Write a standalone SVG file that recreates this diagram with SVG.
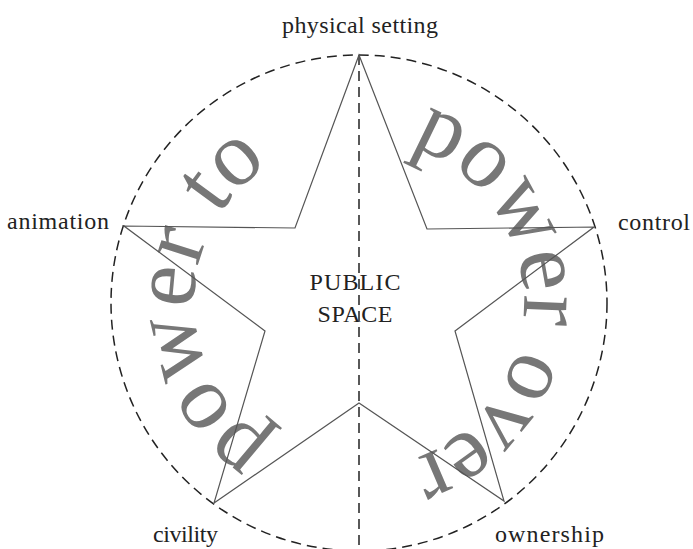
<svg xmlns="http://www.w3.org/2000/svg" width="693" height="549" viewBox="0 0 693 549">
<style>
.lbl{font-family:"Liberation Serif","Times New Roman",serif;font-size:24px;fill:#222}
.big{font-family:"Liberation Serif","Times New Roman",serif;font-size:92px;fill:#777}
.dash{fill:none;stroke:#222;stroke-width:1.5;stroke-dasharray:10 6}
.star{fill:none;stroke:#555;stroke-width:1.2;stroke-linejoin:miter}
</style>
<defs>
<path id="arc" d="M 359,138 A 165,165 0 1,1 359,468 A 165,165 0 1,1 359,138"/>
</defs>
<g id="power-text">
<text class="big"><textPath href="#arc" startOffset="51.8" textLength="414.7" lengthAdjust="spacing">power over</textPath></text>
<text class="big"><textPath href="#arc" startOffset="610.5" textLength="331" lengthAdjust="spacing">power to</textPath></text>
</g>
<g id="connectors">
<circle class="dash" cx="359" cy="303" r="248"/>
<line class="dash" x1="359" y1="55" x2="359" y2="549"/>
<polygon id="star" class="star" points="359,55 427,229 594,227 455,331 504,501 359,403 214,503 265,331 124,226 295,228"/>
</g>
<g id="physical-setting"><text class="lbl" x="360" y="33" text-anchor="middle" textLength="156">physical setting</text></g>
<g id="animation"><text class="lbl" x="7" y="229" textLength="102">animation</text></g>
<g id="control"><text class="lbl" x="618" y="230" textLength="72">control</text></g>
<g id="civility"><text class="lbl" x="153" y="542" textLength="65">civility</text></g>
<g id="ownership"><text class="lbl" x="495" y="542" textLength="109">ownership</text></g>
<g id="public-space">
<text class="lbl" x="355" y="290" text-anchor="middle" textLength="91">PUBLIC</text>
<text class="lbl" x="355" y="322" text-anchor="middle" textLength="75">SPACE</text>
</g>
</svg>
